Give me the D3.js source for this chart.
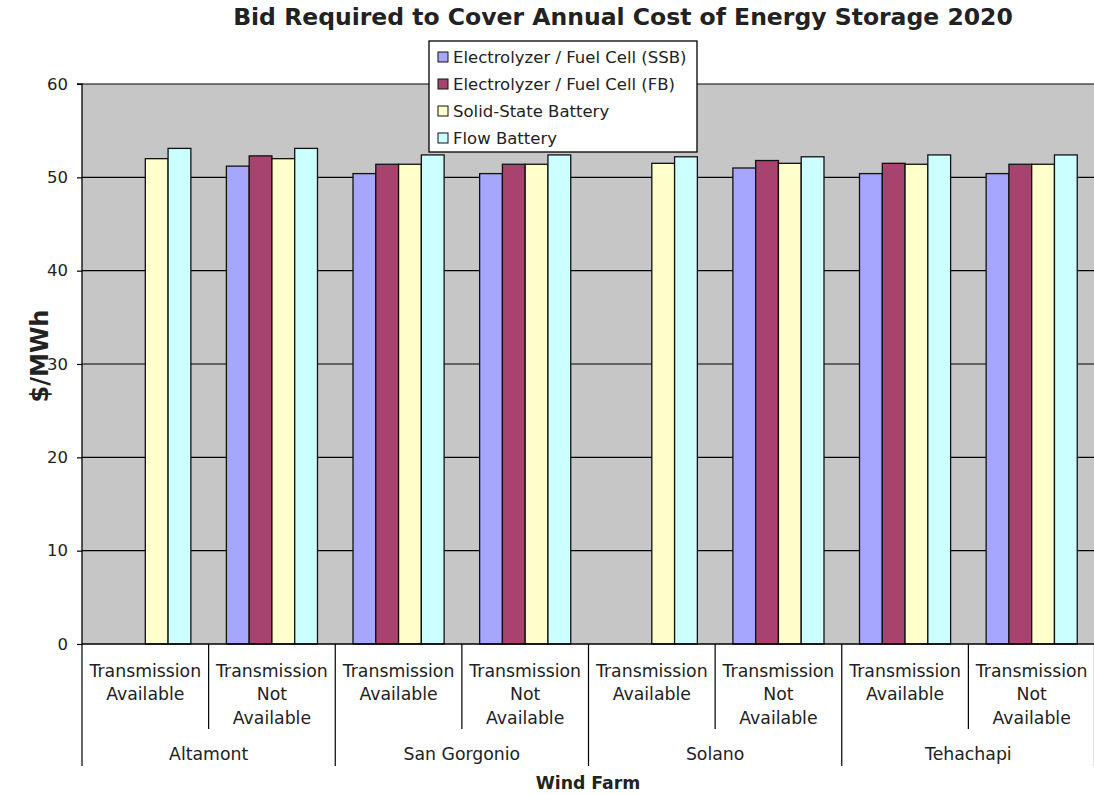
<!DOCTYPE html>
<html><head><meta charset="utf-8">
<script src="https://cdn.jsdelivr.net/npm/d3@7"></script>
<style>body{margin:0;background:#fff}svg{display:block}text{font-family:"DejaVu Sans",Verdana,sans-serif;fill:#222}</style>
</head><body><svg id="c" width="1094" height="795"></svg>
<script>
const windFarms = ["Altamont", "San Gorgonio", "Solano", "Tehachapi"];
const transmission = [["Transmission", "Available"], ["Transmission", "Not", "Available"]];
const seriesNames = ["Electrolyzer / Fuel Cell (SSB)", "Electrolyzer / Fuel Cell (FB)", "Solid-State Battery", "Flow Battery"];
const seriesColors = ["#a6a6ff", "#a8426f", "#ffffcc", "#ccffff"];
const ssbValues  = [null, 51.2, 50.4, 50.4, null, 51.0, 50.4, 50.4];
const fbValues   = [null, 52.3, 51.4, 51.4, null, 51.8, 51.5, 51.4];
const ssValues   = [52.0, 52.0, 51.4, 51.4, 51.5, 51.5, 51.4, 51.4];
const flowValues = [53.1, 53.1, 52.4, 52.4, 52.2, 52.2, 52.4, 52.4];
const yTicks = [0, 10, 20, 30, 40, 50, 60];
const title = "Bid Required to Cover Annual Cost of Energy Storage 2020";

const seriesValues = [ssbValues, fbValues, ssValues, flowValues];
const cats = [];
windFarms.forEach((f, i) => transmission.forEach((t, j) => cats.push({farm: f, label: t, id: i + "-" + j})));

const svg = d3.select("#c");
const L = 82, R = 1095, T = 84, B = 644;
const x = d3.scaleBand().domain(cats.map(c => c.id)).range([L, R]).padding(0);
const xs = d3.scaleBand().domain(seriesNames).range([0, x.bandwidth()]).paddingInner(0).paddingOuter(0.78);
const y = d3.scaleLinear().domain([0, 60]).range([B, T]);

svg.append("rect").attr("x", L).attr("y", T).attr("width", R - L).attr("height", B - T).attr("fill", "#c6c6c6");

// gridlines
svg.append("g").selectAll("line").data(yTicks.filter(d => d > 0)).join("line")
  .attr("x1", L).attr("x2", R).attr("y1", d => y(d)).attr("y2", d => y(d))
  .attr("stroke", "#000").attr("stroke-width", 1.2);

// bars
const rows = [];
cats.forEach((c, ci) => seriesNames.forEach((s, si) => {
  const v = seriesValues[si][ci];
  if (v != null) rows.push({c, s, si, v});
}));
svg.append("g").selectAll("rect").data(rows).join("rect")
  .attr("x", d => x(d.c.id) + xs(d.s))
  .attr("width", xs.bandwidth())
  .attr("y", d => y(d.v))
  .attr("height", d => y(0) - y(d.v))
  .attr("fill", d => seriesColors[d.si])
  .attr("stroke", "#111").attr("stroke-width", 1.3);

// y axis
const yAxis = d3.axisLeft(y).tickValues(yTicks).tickSize(5).tickPadding(9);
const ya = svg.append("g").attr("transform", `translate(${L},0)`).call(yAxis);
ya.select(".domain").attr("stroke", "#000").attr("stroke-width", 1.3).attr("d", `M-5,${T}H0V${B}`);
ya.selectAll(".tick line").attr("stroke", "#000").attr("stroke-width", 1.2);
ya.selectAll(".tick text").attr("font-size", 16.5).attr("fill", "#222").attr("font-family", "DejaVu Sans, Verdana, sans-serif");

// x axis baseline
svg.append("line").attr("x1", L).attr("x2", R).attr("y1", B).attr("y2", B).attr("stroke", "#000").attr("stroke-width", 1.3);

// inner category dividers and labels
const xg = svg.append("g");
cats.forEach((c, i) => {
  const x0 = x(c.id);
  const isGroupStart = i % 2 === 0;
  xg.append("line").attr("x1", x0).attr("x2", x0).attr("y1", B).attr("y2", isGroupStart ? 766 : 729)
    .attr("stroke", "#000").attr("stroke-width", 1.2);
  c.label.forEach((ln, k) => {
    xg.append("text").attr("x", x0 + x.bandwidth() / 2).attr("y", 671 + k * 23.3)
      .attr("text-anchor", "middle").attr("dominant-baseline", "central").attr("font-size", 17.3).text(ln);
  });
});
xg.append("line").attr("x1", R - 0.5).attr("x2", R - 0.5).attr("y1", B).attr("y2", 766).attr("stroke", "#000").attr("stroke-width", 1.2);
windFarms.forEach((f, i) => {
  const x0 = x(i + "-0"), x1 = x(i + "-1") + x.bandwidth();
  xg.append("text").attr("x", (x0 + x1) / 2).attr("y", 754).attr("text-anchor", "middle")
    .attr("dominant-baseline", "central").attr("font-size", 17.3).text(f);
});

// titles
svg.append("text").attr("x", 623).attr("y", 17).attr("text-anchor", "middle").attr("dominant-baseline", "central")
  .attr("font-size", 23.5).attr("font-weight", "bold").attr("fill", "#000").text(title);
svg.append("text").attr("x", 588).attr("y", 783).attr("text-anchor", "middle").attr("dominant-baseline", "central")
  .attr("font-size", 17.3).attr("font-weight", "bold").attr("fill", "#000").text("Wind Farm");
svg.append("text").attr("transform", "translate(40,356) rotate(-90)").attr("text-anchor", "middle").attr("dominant-baseline", "central")
  .attr("font-size", 24).attr("font-weight", "bold").attr("fill", "#000").text("$/MWh");

// legend
const lg = svg.append("g").attr("transform", "translate(429,41)");
lg.append("rect").attr("width", 268).attr("height", 111).attr("fill", "#fff").attr("stroke", "#000").attr("stroke-width", 1.3);
seriesNames.forEach((s, i) => {
  const cy = 16 + i * 27;
  lg.append("rect").attr("x", 9).attr("y", cy - 5).attr("width", 10).attr("height", 10)
    .attr("fill", seriesColors[i]).attr("stroke", "#111").attr("stroke-width", 1);
  lg.append("text").attr("x", 24).attr("y", cy).attr("dominant-baseline", "central").attr("font-size", 16.5).text(s);
});
</script></body></html>
